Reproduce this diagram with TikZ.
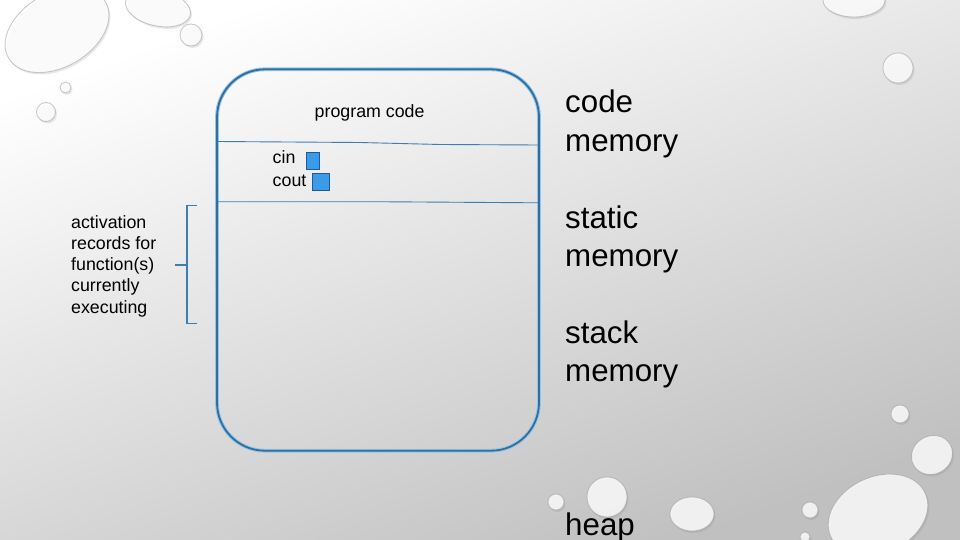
\documentclass[tikz,border=0pt]{standalone}
\usepackage{fontspec}
\usetikzlibrary{shadows}
\setmainfont{Liberation Sans}
\definecolor{boxblue}{RGB}{46,110,160}
\definecolor{haloblue}{RGB}{150,196,230}
\definecolor{lineblue}{RGB}{60,125,180}
\definecolor{sqfill}{RGB}{58,155,232}
\definecolor{sqdraw}{RGB}{30,90,150}
\definecolor{bgmid}{RGB}{234,234,234}
\definecolor{bggray}{RGB}{192,192,192}
\tikzset{
  small/.style={inner sep=0pt, anchor=base west, font=\fontsize{17.8}{21.3}\selectfont},
  big/.style={inner sep=0pt, anchor=base west, font=\fontsize{31.3}{38.5}\selectfont},
  membox/.style={draw=boxblue, line width=1.8pt, rounded corners=48pt,
    preaction={draw=haloblue, line width=3.8pt}},
  divline/.style={draw=lineblue, line width=0.9pt},
  sq/.style={draw=sqdraw, fill=sqfill, line width=0.8pt, inner sep=0pt},
  bracket/.style={draw=lineblue, line width=1.1pt},
  drop/.style={fill=white, fill opacity=0.8, draw=black!40, draw opacity=0.5, line width=0.9pt,
    drop shadow={opacity=0.18, shadow xshift=1.5pt, shadow yshift=-2pt}}
}
\begin{document}
\begin{tikzpicture}[x=1pt,y=-1pt]
\useasboundingbox (0,0) rectangle (960,540);
% background
\shade[top color=white, middle color=bgmid, bottom color=bggray, shading angle=20] (0,0) rectangle (960,540);
% droplets
\begin{scope}
\clip (0,0) rectangle (960,540);
\draw[drop, rotate around={30:(57,30)}] (57,30) ellipse (56pt and 37pt);
\draw[drop, rotate around={-12:(158,8)}] (158,8) ellipse (33pt and 18pt);
\draw[drop] (191,35) circle (11pt);
\draw[drop] (65.5,87.5) circle (5.5pt);
\draw[drop] (46,112) circle (9.5pt);
\draw[drop] (854,0) ellipse (31pt and 17pt);
\draw[drop] (898,68) circle (15pt);
\draw[drop] (900,414) circle (9pt);
\draw[drop, rotate around={30:(932,455)}] (932,455) ellipse (21pt and 19pt);
\draw[drop, rotate around={25:(878,515)}] (878,515) ellipse (52pt and 38pt);
\draw[drop] (810,510) circle (8pt);
\draw[drop] (805,537) circle (5pt);
\draw[drop] (692,514) ellipse (22pt and 17pt);
\draw[drop] (607,497) circle (20pt);
\draw[drop] (556,502) circle (8pt);
\end{scope}
% memory box
\node[membox, minimum width=322pt, minimum height=381.4pt] (mem) at (378,260) {};
\draw[divline] (217,141.5) -- (360,142.5) -- (440,144.5) -- (538,145);
\draw[divline] (217,201.7) -- (390,201.8) -- (538,202.8);
% texts inside
\node[small] (prog) at (314.5,117.3) {program code};
\node[small] (cin) at (272.5,164) {cin};
\node[small] (cout) at (272.5,186.7) {cout};
\node[sq, minimum width=13pt, minimum height=17pt] (cinbox) at (312.5,161.3) {};
\node[sq, minimum width=17pt, minimum height=17pt] (coutbox) at (320.5,182) {};
% activation records
\node[small] (act1) at (71,228) {activation};
\node[small] (act2) at (71,249.3) {records for};
\node[small] (act3) at (71,270.6) {function(s)};
\node[small] (act4) at (71,291.9) {currently};
\node[small] (act5) at (71,313.2) {executing};
% bracket
\coordinate (brtop) at (197,205.5);
\coordinate (brbot) at (197,323.5);
\coordinate (brmid) at (187,265);
\coordinate (brtip) at (175,265);
\draw[bracket] (brtop) -- (187,205.5) -- (187,323.5) -- (brbot);
\draw[bracket] (brmid) -- (brtip);
% right labels
\node[big] (code1) at (565,113) {code};
\node[big] (code2) at (565,151.7) {memory};
\node[big] (stat1) at (565,228) {static};
\node[big] (stat2) at (565,266.7) {memory};
\node[big] (stk1) at (565,343) {stack};
\node[big] (stk2) at (565,381.7) {memory};
\node[big] (heap) at (565,535) {heap};
\end{tikzpicture}
\end{document}
